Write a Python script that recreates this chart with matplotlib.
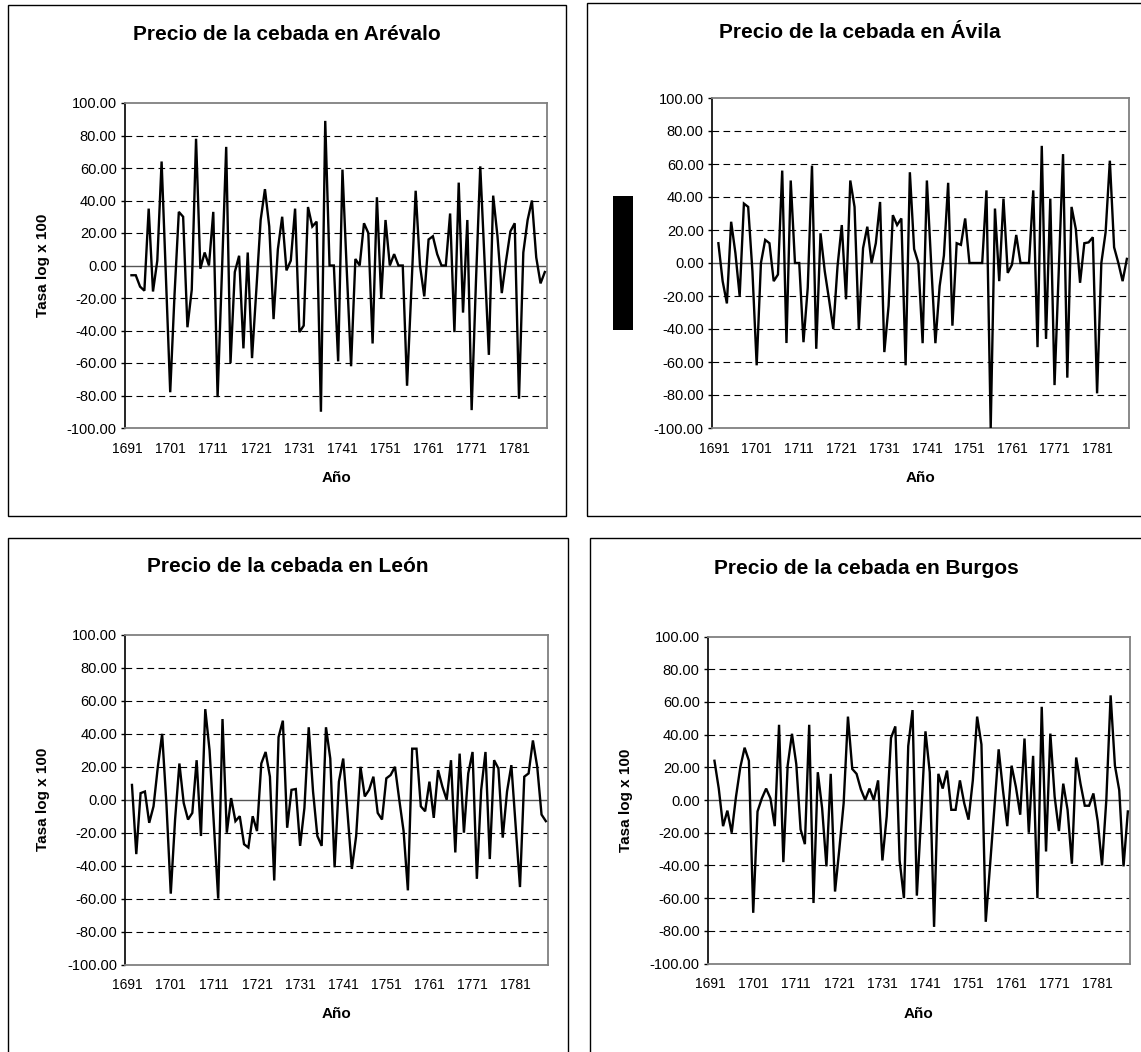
import matplotlib
matplotlib.use('Agg')
import matplotlib.pyplot as plt
from matplotlib.patches import Rectangle

plt.rcParams['font.family'] = ['Liberation Sans', 'DejaVu Sans']

# categories 1691..1788, the first year has no rate
years = list(range(1691, 1789))
tick_years = list(range(1691, 1790, 10))[:10]

arevalo = [-6, -6, -13, -15.5, 35, -16, 3, 64, -7, -78,
           -18, 33, 30, -38, -15, 78, -2, 8, 0, 33,
           -81, -5, 73, -60, -4, 6, -51, 8, -57, -15,
           28, 47, 24, -33, 10, 30, -3, 3, 35, -41,
           -37, 36, 24, 27, -90, 89, 0, 0, -59, 59,
           -3, -62, 4, 0, 26, 20, -48, 42, -20, 28,
           0, 7, 0, 0, -74, -15, 46, 0, -19, 16,
           18, 7, 0, 0, 32, -41, 51, -29, 28, -89,
           -10, 61, 3, -55, 43, 18, -17, 3, 21, 26,
           -82, 8, 28, 40, 5, -11, -4]

avila = [12, -11, -24.5, 25, 6, -20, 36, 34, -5, -62,
         0, 14, 12, -11, -7, 56, -48.5, 50, 0, 0,
         -48, -15, 59, -52, 18, -5, -22, -40, -2, 23,
         -22, 50, 34, -40, 9, 22, 0, 12, 37, -54,
         -26, 29, 23, 27, -62, 55, 8.5, 0, -48.6, 50,
         0, -48.6, -14, 4.5, 48.6, -38, 12, 11, 27, 0,
         0, 0, 0, 44, -100, 33, -11, 39, -6, -1,
         17, 0, 0, 0, 44, -51, 71, -46, 39, -74,
         -4, 66, -69.5, 34, 20.6, -12, 12, 12.5, 15.6, -79,
         0, 18.6, 62, 9.5, 0, -11, 2.5]

leon = [9, -33, 4, 5, -14, -4, 20, 40, -3, -57,
        -12, 22, -2, -12, -8, 24, -22, 55, 30, -15,
        -60, 49, -20, 1, -13, -10, -27, -29, -10, -19,
        22, 29, 14, -49, 38, 48, -17, 6, 6.5, -28,
        -5, 44, 5, -22, -28, 44, 25, -41, 11, 25,
        -8, -42, -22, 20, 2, 6, 14, -8, -12, 13,
        15, 20, 0, -19, -55, 31, 31, -4, -7, 11,
        -11, 18, 8, 0, 24, -32, 28, -20, 16, 29,
        -48, 6, 29, -36, 24, 19, -23, 5, 21, -16,
        -53, 14, 16, 36, 20, -9, -13]

burgos = [24, 7, -16, -6.5, -20, 2, 20, 32, 24, -69,
          -7, 1, 7, 1, -16, 46, -38, 21, 40.5, 22,
          -18, -27, 46, -63, 17, -5, -40.6, 16, -56, -30,
          -2, 51, 19, 16, 6.5, 0, 7, 0, 12, -37,
          -10, 38, 45, -37, -60, 33, 55, -58.5, -10, 42,
          17, -77.6, 16, 7, 18, -6, -6, 12, -2, -12,
          12, 51, 34, -74.5, -40, -5, 31, 6, -16, 21,
          8, -9, 37.6, -20, 27, -60, 57, -31.5, 40.6, 2,
          -19, 10, -6, -39, 26, 10, -3.5, -3.5, 4, -13,
          -40, 0, 64, 21, 6, -40.6, -7]

titles = ["Precio de la cebada en Arévalo", "Precio de la cebada en Ávila",
          "Precio de la cebada en León", "Precio de la cebada en Burgos"]
series = [arevalo, avila, leon, burgos]
yticks = list(range(-100, 101, 20))

W, H = 1141, 1052
# pixel layout: plot box, frame box, title centre, y-label x
layout = [
    dict(plot=(125, 103, 547, 428), frame=(8, 5, 566, 516), tx=287, ty=35, ylab=43),
    dict(plot=(712, 98, 1129, 428), frame=(587, 3, 1170, 516), tx=860, ty=33, ylab=None),
    dict(plot=(125.5, 635, 548, 964.5), frame=(8, 538, 568, 1080), tx=288, ty=567, ylab=43),
    dict(plot=(708, 636.5, 1130, 963.5), frame=(590, 538, 1170, 1080), tx=866, ty=568, ylab=626),
]


def fx(x):
    return x / W


def fy(y):
    return 1 - y / H


fig = plt.figure(figsize=(W / 100, H / 100), dpi=100)
fig.patch.set_facecolor('white')

for vals, title, lay in zip(series, titles, layout):
    l, t, r, b = lay['plot']
    ax = fig.add_axes([fx(l), fy(b), (r - l) / W, (b - t) / H])

    fl, ft, fr, fb = lay['frame']
    fig.patches.append(Rectangle((fx(fl), fy(fb)), (fr - fl) / W, (fb - ft) / H,
                                 transform=fig.transFigure, fill=False,
                                 ec='black', lw=1.0))

    # dashed gridlines (dash pattern is in units of the line width)
    for v in yticks:
        if v in (-100, 0, 100):
            continue
        ax.axhline(v, color='black', lw=0.8, linestyle=(0, (6, 3.9)), zorder=1)
    ax.axhline(0, color='#555555', lw=1.0, zorder=2)

    x = list(range(1, len(years)))
    ax.plot(x, vals, color='black', lw=1.7, zorder=3, solid_joinstyle='miter')

    ax.set_xlim(-0.5, len(years) - 0.5)
    ax.set_ylim(-100, 100)
    ax.set_yticks(yticks)
    ax.set_yticklabels([f"{v:.2f}" for v in yticks])
    ax.set_xticks([years.index(yr) for yr in tick_years])
    ax.set_xticklabels([str(yr) for yr in tick_years])
    ax.tick_params(axis='x', length=0, pad=10, labelsize=10)
    ax.tick_params(axis='y', direction='out', length=3, width=1, pad=3, labelsize=10.5)

    for side in ('top', 'right', 'bottom'):
        ax.spines[side].set_color('#808080')
        ax.spines[side].set_linewidth(1.3)
    ax.spines['left'].set_color('black')
    ax.spines['left'].set_linewidth(1.2)

    fig.text(fx(lay['tx']), fy(lay['ty']), title, ha='center', va='center',
             fontsize=15, fontweight='bold')
    fig.text(fx((l + r) / 2), fy(b + 50), "Año", ha='center', va='center',
             fontsize=11, fontweight='bold')
    if lay['ylab'] is not None:
        fig.text(fx(lay['ylab']), fy((t + b) / 2), "Tasa log x 100", rotation=90,
                 ha='center', va='center', fontsize=11, fontweight='bold')

# the Ávila chart shows a solid black box where its axis title should be
fig.patches.append(Rectangle((fx(613), fy(330)), 20 / W, 134 / H,
                             transform=fig.transFigure, fc='black', ec='none'))

fig.savefig('out.png', dpi=100)
